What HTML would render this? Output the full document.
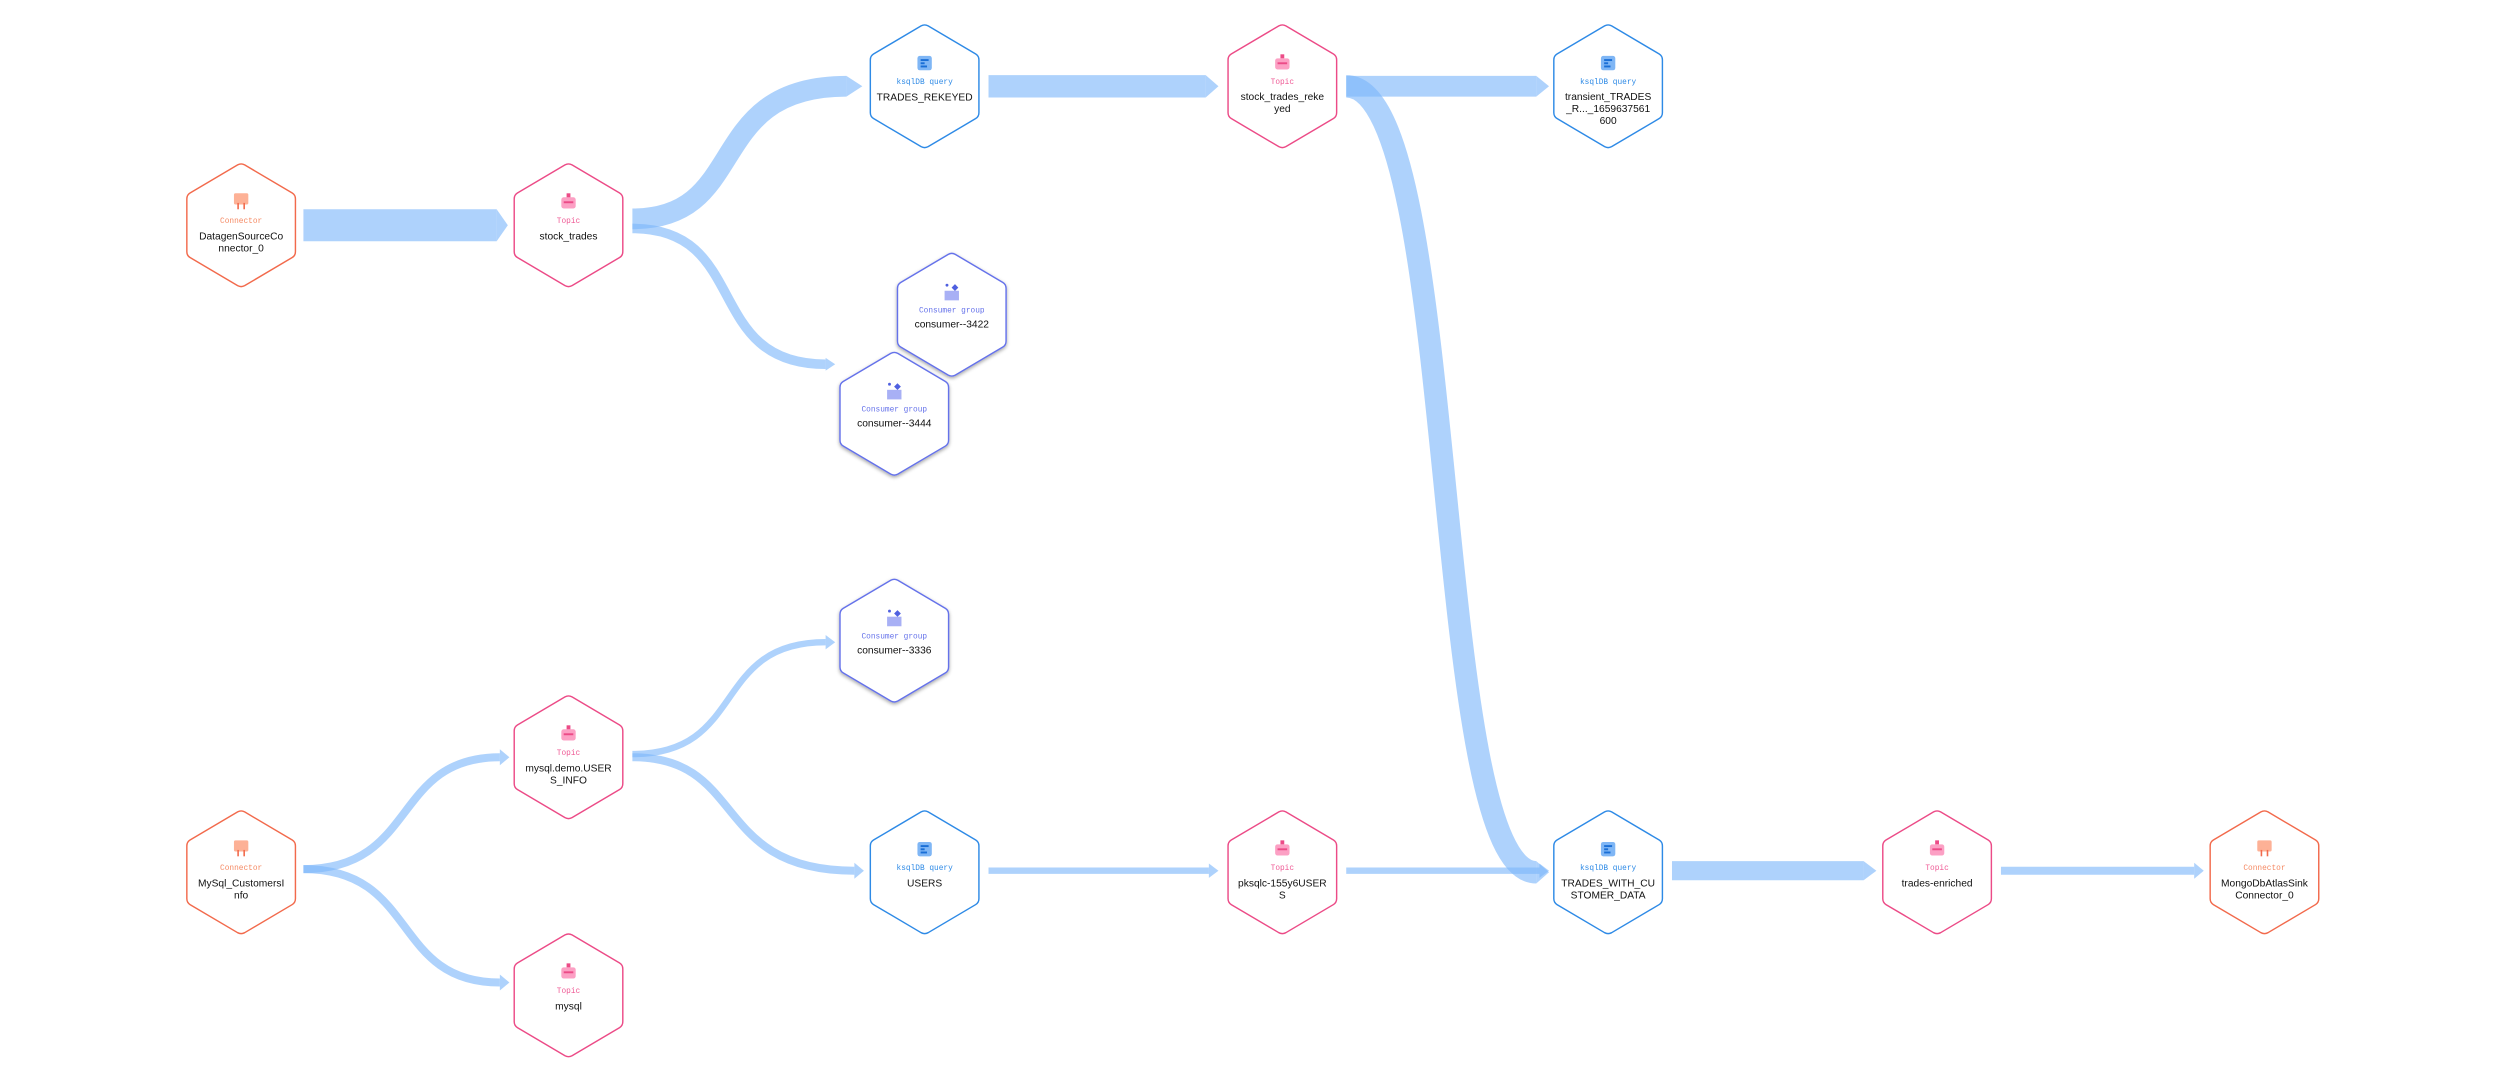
<!DOCTYPE html>
<html><head><meta charset="utf-8"><style>
html,body{margin:0;padding:0;background:#fff;}
svg{display:block;}
.n{font-family:"Liberation Sans",sans-serif;font-size:6.4px;fill:#111;text-anchor:middle;}
.t{font-family:"Liberation Mono",monospace;font-size:4.9px;text-anchor:middle;}
.e{fill:none;stroke:#7db7fa;stroke-opacity:0.62;}
.a{fill:#7db7fa;fill-opacity:0.62;}
</style></head><body>
<svg width="2504" height="1072" viewBox="0 0 1568 671" preserveAspectRatio="none" xmlns="http://www.w3.org/2000/svg">
<defs>
<filter id="sh" x="-30%" y="-30%" width="160%" height="160%"><feDropShadow dx="0" dy="1" stdDeviation="1.2" flood-color="#000" flood-opacity="0.35"/></filter>
<path id="hx" d="M-2.2,-37.8 Q0,-39 2.2,-37.8 L32,-20.2 Q34,-19 34,-16.5 L34,16.5 Q34,19 32,20.2 L2.2,37.8 Q0,39 -2.2,37.8 L-32,20.2 Q-34,19 -34,16.5 L-34,-16.5 Q-34,-19 -32,-20.2 Z"/>
</defs>

<!-- edges -->
<path class="e" stroke-width="20" d="M190,141 L311,141"/><polygon class="a" points="311,131 318,141 311,151"/>
<path class="e" stroke-width="13" d="M396,137 C470,137 440,54 530,54"/><polygon class="a" points="530,47.5 540,54 530,60.5"/>
<path class="e" stroke-width="6" d="M396,143 C470,143 440,228 517,228"/><polygon class="a" points="517,224 523,228 517,232"/>
<path class="e" stroke-width="14" d="M619,54 L755,54"/><polygon class="a" points="755,47 763,54 755,61"/>
<path class="e" stroke-width="13" d="M843,54 L962,54"/><polygon class="a" points="962,47.5 970,54 962,60.5"/>
<path class="e" stroke-width="14" d="M843,54 C915,54 895,546 962,546"/><polygon class="a" points="962,539 970,546 962,553"/>
<path class="e" stroke-width="5" d="M190,544 C262,544 245,474 313,474"/><polygon class="a" points="313,469 319,474 313,479"/>
<path class="e" stroke-width="5" d="M190,544 C262,544 245,615 313,615"/><polygon class="a" points="313,610 319,615 313,620"/>
<path class="e" stroke-width="4" d="M396,472 C468,472 445,402 517,402"/><polygon class="a" points="517,397.5 523,402 517,406.5"/>
<path class="e" stroke-width="5" d="M396,474 C468,474 445,545 535,545"/><polygon class="a" points="535,540 541,545 535,550"/>
<path class="e" stroke-width="4" d="M619,545 L757,545"/><polygon class="a" points="757,540.5 763,545 757,549.5"/>
<path class="e" stroke-width="4" d="M843,545 L964,545"/><polygon class="a" points="964,540.5 970,545 964,549.5"/>
<path class="e" stroke-width="12" d="M1047,545 L1167,545"/><polygon class="a" points="1167,539 1175,545 1167,551"/>
<path class="e" stroke-width="5" d="M1253,545 L1374,545"/><polygon class="a" points="1374,540 1380,545 1374,550"/>

<!-- connectors -->
<g transform="translate(151,141)"><use href="#hx" fill="#fff" stroke="#f26a4c" stroke-width="0.9" stroke-linejoin="round"/>
<rect x="-4.5" y="-20" width="9" height="7" rx="1" fill="#fdb196"/><rect x="-2.4" y="-14" width="1" height="4" fill="#f26a4c"/><rect x="1.4" y="-14" width="1" height="4" fill="#f26a4c"/>
<text class="t" y="-1.5" fill="#f58a64">Connector</text><text class="n" y="9">DatagenSourceCo</text><text class="n" y="16.5">nnector_0</text></g>
<g transform="translate(151,546)"><use href="#hx" fill="#fff" stroke="#f26a4c" stroke-width="0.9" stroke-linejoin="round"/>
<rect x="-4.5" y="-20" width="9" height="7" rx="1" fill="#fdb196"/><rect x="-2.4" y="-14" width="1" height="4" fill="#f26a4c"/><rect x="1.4" y="-14" width="1" height="4" fill="#f26a4c"/>
<text class="t" y="-1.5" fill="#f58a64">Connector</text><text class="n" y="9">MySql_CustomersI</text><text class="n" y="16.5">nfo</text></g>
<g transform="translate(1418,546)"><use href="#hx" fill="#fff" stroke="#f26a4c" stroke-width="0.9" stroke-linejoin="round"/>
<rect x="-4.5" y="-20" width="9" height="7" rx="1" fill="#fdb196"/><rect x="-2.4" y="-14" width="1" height="4" fill="#f26a4c"/><rect x="1.4" y="-14" width="1" height="4" fill="#f26a4c"/>
<text class="t" y="-1.5" fill="#f58a64">Connector</text><text class="n" y="9">MongoDbAtlasSink</text><text class="n" y="16.5">Connector_0</text></g>

<!-- topics -->
<g transform="translate(356,141)"><use href="#hx" fill="#fff" stroke="#ec4b87" stroke-width="0.9" stroke-linejoin="round"/>
<rect x="-4.5" y="-17.5" width="9" height="7" rx="1.5" fill="#fca0c4"/><rect x="-3" y="-15" width="6" height="1.2" fill="#ec4b87"/><rect x="-1.2" y="-20" width="2.4" height="2.5" fill="#ec4b87"/>
<text class="t" y="-1.5" fill="#ef5b96">Topic</text><text class="n" y="9">stock_trades</text></g>
<g transform="translate(803,54)"><use href="#hx" fill="#fff" stroke="#ec4b87" stroke-width="0.9" stroke-linejoin="round"/>
<rect x="-4.5" y="-17.5" width="9" height="7" rx="1.5" fill="#fca0c4"/><rect x="-3" y="-15" width="6" height="1.2" fill="#ec4b87"/><rect x="-1.2" y="-20" width="2.4" height="2.5" fill="#ec4b87"/>
<text class="t" y="-1.5" fill="#ef5b96">Topic</text><text class="n" y="8.5">stock_trades_reke</text><text class="n" y="16">yed</text></g>
<g transform="translate(356,474)"><use href="#hx" fill="#fff" stroke="#ec4b87" stroke-width="0.9" stroke-linejoin="round"/>
<rect x="-4.5" y="-17.5" width="9" height="7" rx="1.5" fill="#fca0c4"/><rect x="-3" y="-15" width="6" height="1.2" fill="#ec4b87"/><rect x="-1.2" y="-20" width="2.4" height="2.5" fill="#ec4b87"/>
<text class="t" y="-1.5" fill="#ef5b96">Topic</text><text class="n" y="9">mysql.demo.USER</text><text class="n" y="16.5">S_INFO</text></g>
<g transform="translate(356,623)"><use href="#hx" fill="#fff" stroke="#ec4b87" stroke-width="0.9" stroke-linejoin="round"/>
<rect x="-4.5" y="-17.5" width="9" height="7" rx="1.5" fill="#fca0c4"/><rect x="-3" y="-15" width="6" height="1.2" fill="#ec4b87"/><rect x="-1.2" y="-20" width="2.4" height="2.5" fill="#ec4b87"/>
<text class="t" y="-1.5" fill="#ef5b96">Topic</text><text class="n" y="9">mysql</text></g>
<g transform="translate(803,546)"><use href="#hx" fill="#fff" stroke="#ec4b87" stroke-width="0.9" stroke-linejoin="round"/>
<rect x="-4.5" y="-17.5" width="9" height="7" rx="1.5" fill="#fca0c4"/><rect x="-3" y="-15" width="6" height="1.2" fill="#ec4b87"/><rect x="-1.2" y="-20" width="2.4" height="2.5" fill="#ec4b87"/>
<text class="t" y="-1.5" fill="#ef5b96">Topic</text><text class="n" y="9">pksqlc-155y6USER</text><text class="n" y="16.5">S</text></g>
<g transform="translate(1213,546)"><use href="#hx" fill="#fff" stroke="#ec4b87" stroke-width="0.9" stroke-linejoin="round"/>
<rect x="-4.5" y="-17.5" width="9" height="7" rx="1.5" fill="#fca0c4"/><rect x="-3" y="-15" width="6" height="1.2" fill="#ec4b87"/><rect x="-1.2" y="-20" width="2.4" height="2.5" fill="#ec4b87"/>
<text class="t" y="-1.5" fill="#ef5b96">Topic</text><text class="n" y="9">trades-enriched</text></g>

<!-- ksql -->
<g transform="translate(579,54)"><use href="#hx" fill="#fff" stroke="#2e8ae6" stroke-width="0.9" stroke-linejoin="round"/>
<rect x="-4.5" y="-19" width="9" height="9" rx="1.5" fill="#7fb6f5"/><rect x="-2.5" y="-17" width="5" height="1.2" fill="#1a6fd6"/><rect x="-2.5" y="-15" width="2.5" height="1.2" fill="#1a6fd6"/><rect x="-2.5" y="-13" width="4" height="1.2" fill="#1a6fd6"/>
<text class="t" y="-1.5" fill="#2e8ae6">ksqlDB query</text><text class="n" y="9">TRADES_REKEYED</text></g>
<g transform="translate(1007,54)"><use href="#hx" fill="#fff" stroke="#2e8ae6" stroke-width="0.9" stroke-linejoin="round"/>
<rect x="-4.5" y="-19" width="9" height="9" rx="1.5" fill="#7fb6f5"/><rect x="-2.5" y="-17" width="5" height="1.2" fill="#1a6fd6"/><rect x="-2.5" y="-15" width="2.5" height="1.2" fill="#1a6fd6"/><rect x="-2.5" y="-13" width="4" height="1.2" fill="#1a6fd6"/>
<text class="t" y="-1.5" fill="#2e8ae6">ksqlDB query</text><text class="n" y="8.5">transient_TRADES</text><text class="n" y="16">_R..._1659637561</text><text class="n" y="23.5">600</text></g>
<g transform="translate(579,546)"><use href="#hx" fill="#fff" stroke="#2e8ae6" stroke-width="0.9" stroke-linejoin="round"/>
<rect x="-4.5" y="-19" width="9" height="9" rx="1.5" fill="#7fb6f5"/><rect x="-2.5" y="-17" width="5" height="1.2" fill="#1a6fd6"/><rect x="-2.5" y="-15" width="2.5" height="1.2" fill="#1a6fd6"/><rect x="-2.5" y="-13" width="4" height="1.2" fill="#1a6fd6"/>
<text class="t" y="-1.5" fill="#2e8ae6">ksqlDB query</text><text class="n" y="9">USERS</text></g>
<g transform="translate(1007,546)"><use href="#hx" fill="#fff" stroke="#2e8ae6" stroke-width="0.9" stroke-linejoin="round"/>
<rect x="-4.5" y="-19" width="9" height="9" rx="1.5" fill="#7fb6f5"/><rect x="-2.5" y="-17" width="5" height="1.2" fill="#1a6fd6"/><rect x="-2.5" y="-15" width="2.5" height="1.2" fill="#1a6fd6"/><rect x="-2.5" y="-13" width="4" height="1.2" fill="#1a6fd6"/>
<text class="t" y="-1.5" fill="#2e8ae6">ksqlDB query</text><text class="n" y="9">TRADES_WITH_CU</text><text class="n" y="16.5">STOMER_DATA</text></g>

<!-- consumer groups -->
<g transform="translate(596,197)" filter="url(#sh)"><use href="#hx" fill="#fff" stroke="#6572ea" stroke-width="0.9" stroke-linejoin="round"/>
<rect x="-4.5" y="-15" width="9" height="6" fill="#a8b0f5"/><rect x="0.5" y="-18.5" width="3" height="3" fill="#5060e0" transform="rotate(45 2 -17)"/><circle cx="-3" cy="-18.5" r="0.9" fill="#5060e0"/>
<text class="t" y="-1.5" fill="#6572ea">Consumer group</text><text class="n" y="8">consumer--3422</text></g>
<g transform="translate(560,259)" filter="url(#sh)"><use href="#hx" fill="#fff" stroke="#6572ea" stroke-width="0.9" stroke-linejoin="round"/>
<rect x="-4.5" y="-15" width="9" height="6" fill="#a8b0f5"/><rect x="0.5" y="-18.5" width="3" height="3" fill="#5060e0" transform="rotate(45 2 -17)"/><circle cx="-3" cy="-18.5" r="0.9" fill="#5060e0"/>
<text class="t" y="-1.5" fill="#6572ea">Consumer group</text><text class="n" y="8">consumer--3444</text></g>
<g transform="translate(560,401)" filter="url(#sh)"><use href="#hx" fill="#fff" stroke="#6572ea" stroke-width="0.9" stroke-linejoin="round"/>
<rect x="-4.5" y="-15" width="9" height="6" fill="#a8b0f5"/><rect x="0.5" y="-18.5" width="3" height="3" fill="#5060e0" transform="rotate(45 2 -17)"/><circle cx="-3" cy="-18.5" r="0.9" fill="#5060e0"/>
<text class="t" y="-1.5" fill="#6572ea">Consumer group</text><text class="n" y="8">consumer--3336</text></g>
</svg>
</body></html>
